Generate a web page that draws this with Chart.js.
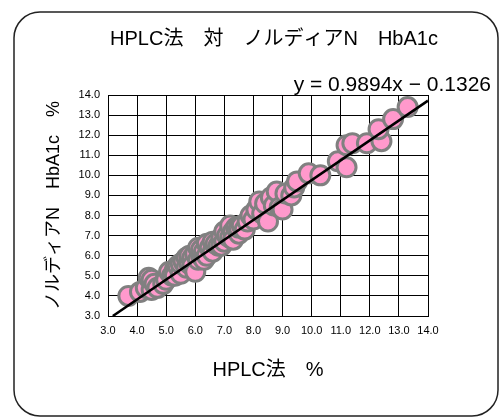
<!DOCTYPE html>
<html>
<head>
<meta charset="utf-8">
<script src="https://cdn.jsdelivr.net/npm/chart.js@4"></script>
<style>
  html, body { margin: 0; padding: 0; background: #fff; }
  #wrap { width: 500px; height: 418px; }
</style>
</head>
<body>
<div id="wrap"><canvas id="hplcChart" width="500" height="418"></canvas></div>
<script>
const chartTitle = 'HPLC法　対　ノルディアN　HbA1c';
const xTitle = 'HPLC法　%';
const yTitle = 'ノルディアN　HbA1c　%';

// HPLC法 (x) vs ノルディアN (y)
const hplcValues = [
    3.7, 4.1, 4.3, 4.4, 4.5, 4.5, 4.6, 4.7, 4.9, 5.0, 5.1, 5.2, 5.3, 5.3, 5.4,
    5.5, 5.5, 5.6, 5.7, 5.7, 5.8, 5.8, 5.9, 5.9, 6.0, 6.0, 6.1, 6.1, 6.2, 6.2,
    6.3, 6.3, 6.4, 6.4, 6.5, 6.6, 6.6, 6.7, 6.8, 6.9, 6.9, 7.0, 7.0, 7.1, 7.2,
    7.2, 7.3, 7.3, 7.4, 7.5, 7.5, 7.6, 7.7, 7.8, 7.9, 8.0, 8.1, 8.2, 8.3, 8.4,
    8.5, 8.6, 8.7, 8.8, 8.9, 9.0, 9.1, 9.3, 9.4, 9.5, 9.9, 10.3, 10.9, 11.2,
    11.2, 11.4, 11.9, 12.4, 12.3, 12.8, 13.3
];
const nordiaValues = [
    4.0, 4.2, 4.4, 4.9, 4.3, 4.8, 4.6, 4.4, 4.6, 4.8, 5.2, 5.0, 5.3, 5.0, 5.5,
    5.1, 5.6, 5.7, 5.9, 5.4, 5.6, 6.0, 5.9, 5.5, 5.2, 6.1, 5.8, 6.4, 6.0, 6.3,
    6.2, 5.8, 6.0, 6.6, 6.4, 6.2, 6.7, 6.6, 6.5, 6.9, 6.5, 6.7, 7.2, 7.0, 6.9,
    7.5, 7.2, 6.8, 7.4, 7.1, 7.4, 7.5, 7.3, 7.7, 8.0, 7.8, 8.3, 8.7, 8.1, 8.6,
    7.7, 8.9, 8.5, 9.2, 8.4, 8.3, 9.1, 9.0, 9.4, 9.7, 10.1, 10.0, 10.7, 10.4,
    11.5, 11.6, 11.6, 11.7, 12.3, 12.8, 13.4
];

// regression line shown on the chart
const slope = 0.9894;
const intercept = -0.1326;
const fitX = [(3.0 - intercept) / slope, 14.0];

const axisMin = 3.0;
const axisMax = 14.0;

const points = hplcValues.map((x, i) => ({ x: x, y: nordiaValues[i] }));
const fitLine = fitX.map(x => ({ x: x, y: slope * x + intercept }));

const jpFont = '"Liberation Sans", "Noto Sans CJK JP", sans-serif';
const tickFont = { family: '"Liberation Sans", Arial, sans-serif', size: 11 };

const framePlugin = {
    id: 'frame',
    afterDraw(chart) {
        const ctx = chart.ctx;
        ctx.save();
        // rounded outer frame
        ctx.strokeStyle = '#222';
        ctx.lineWidth = 1.5;
        ctx.beginPath();
        ctx.roundRect(14, 12, 484, 404, 26);
        ctx.stroke();

        ctx.fillStyle = '#000';
        ctx.textBaseline = 'middle';
        ctx.font = '20px ' + jpFont;
        ctx.textAlign = 'center';
        ctx.fillText(chartTitle, 274, 39);

        ctx.font = '21px ' + jpFont;
        ctx.textAlign = 'right';
        ctx.fillText('y = 0.9894x − 0.1326', 491, 85);
        ctx.restore();
    }
};

new Chart(document.getElementById('hplcChart'), {
    type: 'scatter',
    data: {
        datasets: [
            {
                type: 'line',
                data: fitLine,
                borderColor: '#000',
                borderWidth: 2.5,
                pointRadius: 0,
                fill: false,
                order: 0,
            },
            {
                data: points,
                backgroundColor: '#ff99cc',
                borderColor: '#808080',
                borderWidth: 3,
                pointRadius: 9.5,
                order: 1,
            },
        ],
    },
    plugins: [framePlugin],
    options: {
        responsive: false,
        animation: false,
        layout: { padding: { top: 95, right: 72, bottom: 0, left: 0 } },
        plugins: {
            legend: { display: false },
            tooltip: { enabled: false },
            title: { display: false },
        },
        scales: {
            x: {
                type: 'linear',
                min: axisMin,
                max: axisMax,
                afterFit: s => { s.height = 102; },
                grid: { color: '#000', drawTicks: false },
                border: { color: '#000' },
                ticks: {
                    stepSize: 1,
                    padding: 8,
                    color: '#000',
                    font: tickFont,
                    callback: v => Number(v).toFixed(1),
                },
                title: {
                    display: true,
                    text: xTitle,
                    color: '#000',
                    font: { family: jpFont, size: 20 },
                    padding: { top: 0, bottom: 36 },
                },
            },
            y: {
                type: 'linear',
                min: axisMin,
                max: axisMax,
                afterFit: s => { s.width = 108; },
                grid: { color: '#000', drawTicks: false },
                border: { color: '#000' },
                ticks: {
                    stepSize: 1,
                    padding: 8,
                    color: '#000',
                    font: tickFont,
                    callback: v => Number(v).toFixed(1),
                },
                title: {
                    display: true,
                    text: yTitle,
                    color: '#000',
                    font: { family: jpFont, size: 18 },
                    padding: { top: 43, bottom: 0 },
                },
            },
        },
    },
});
</script>
</body>
</html>
